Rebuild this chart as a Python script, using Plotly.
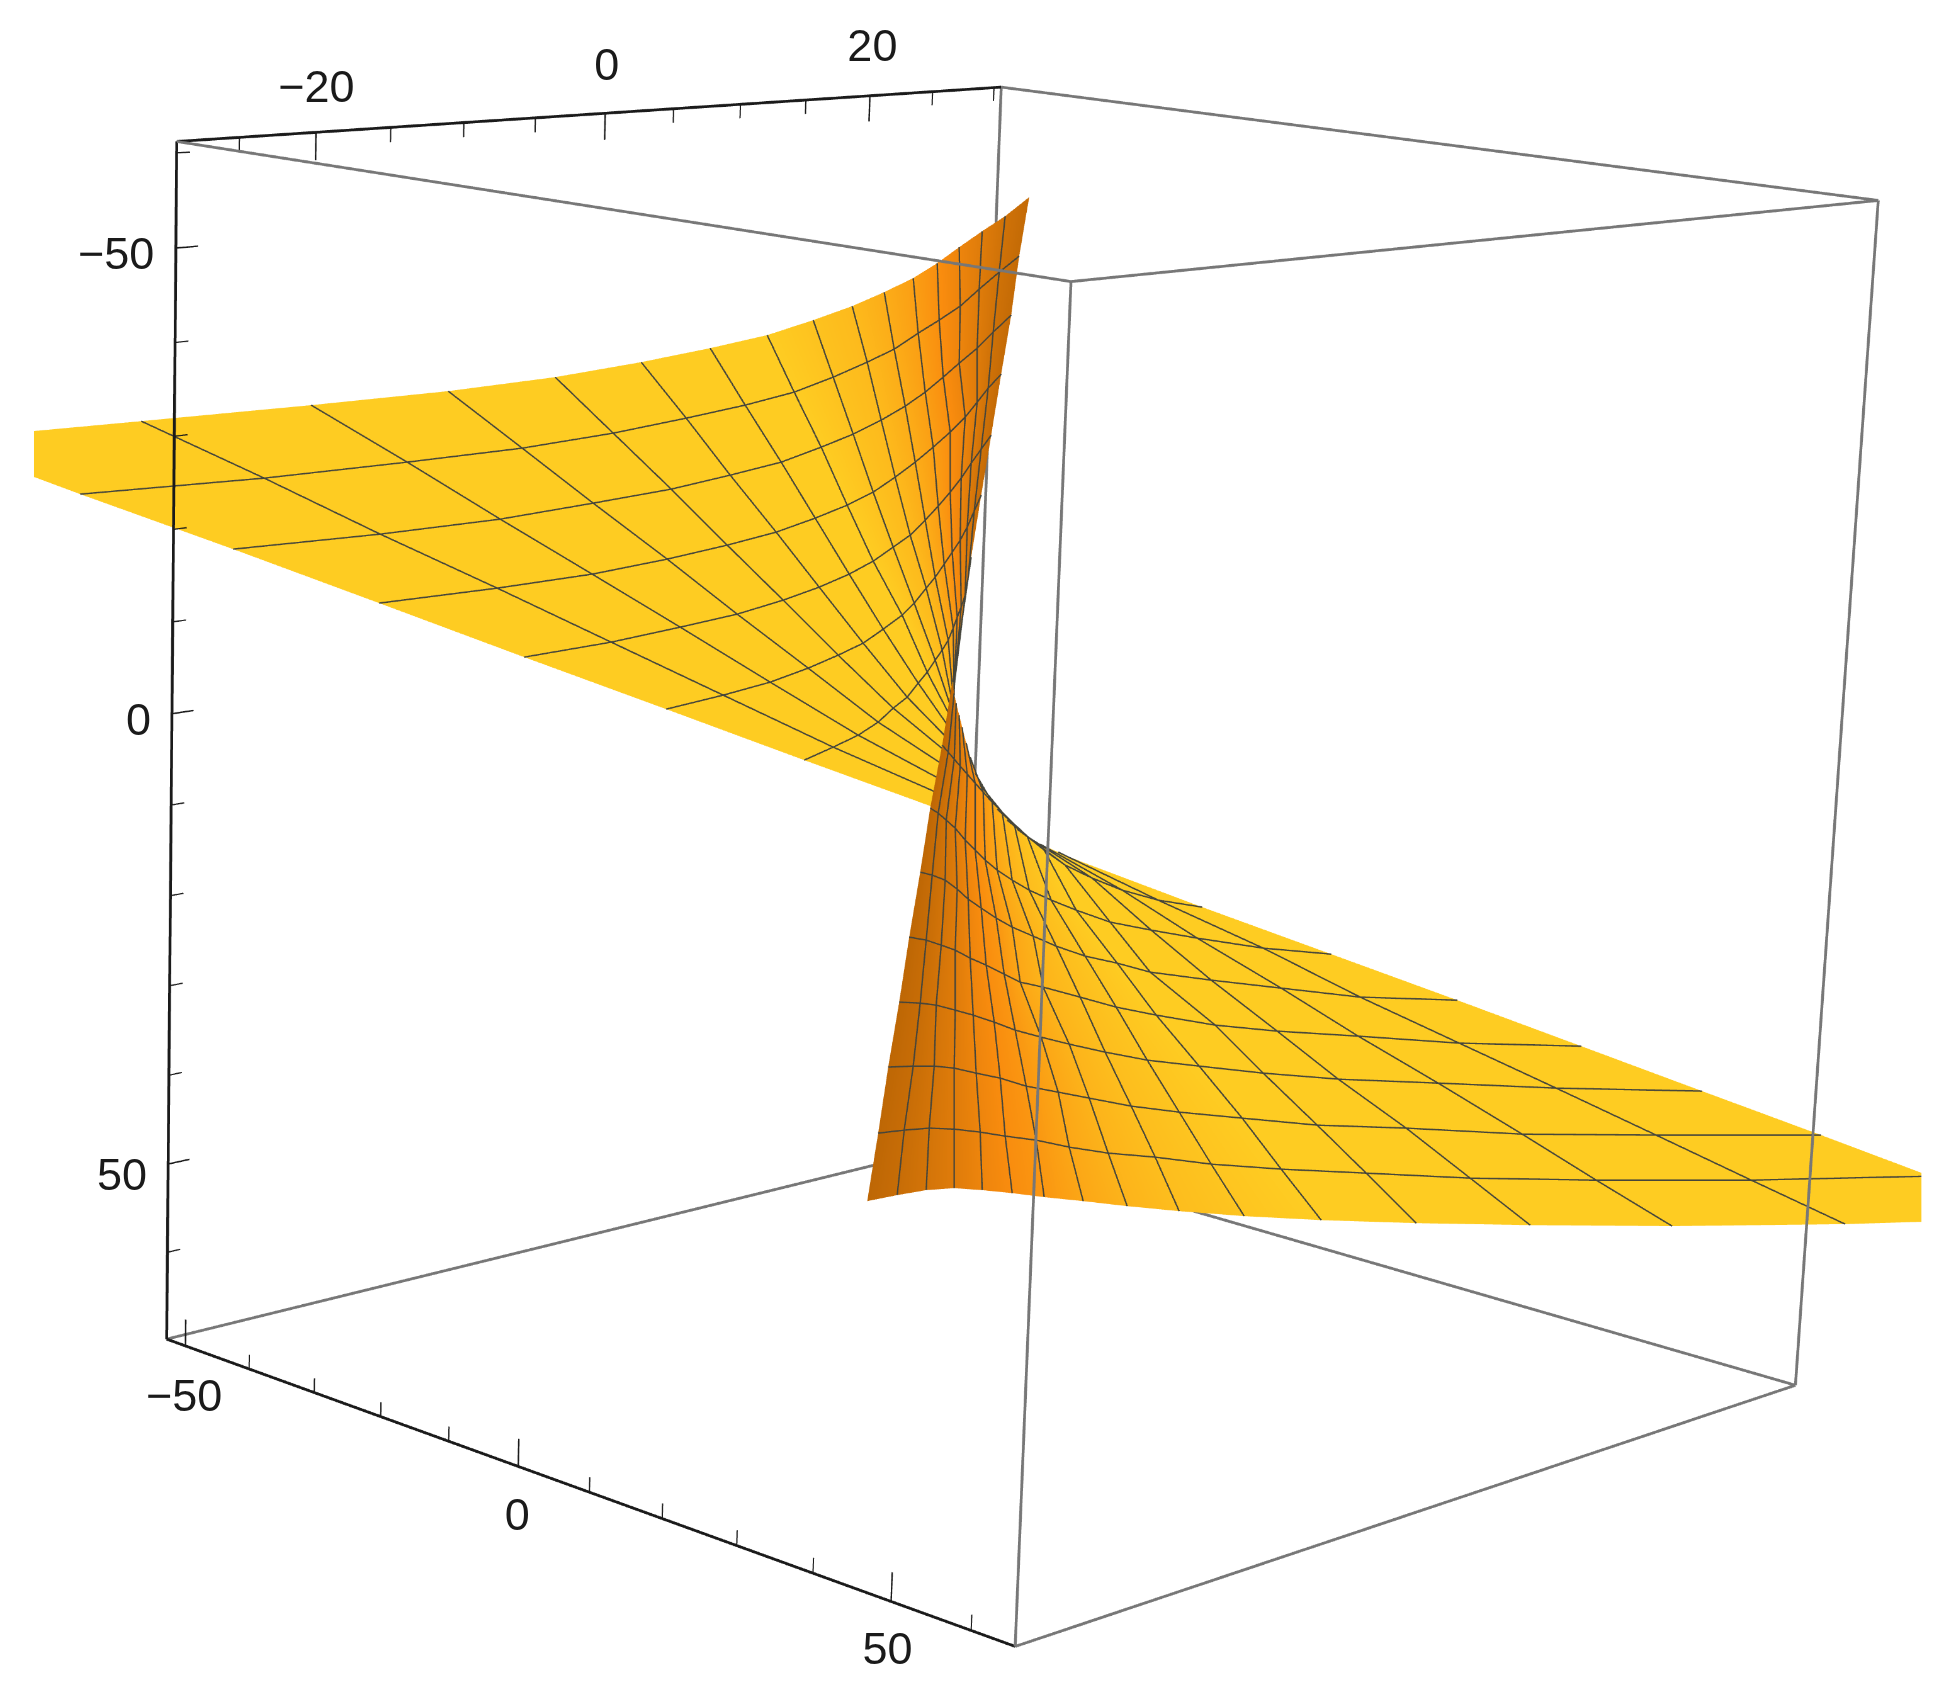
import numpy as np
import plotly.graph_objects as go

# Axis box and ticks (data units)
x_limits = [-29, 30.6]
y_limits = [-53, 65.4]
z_limits = [-61.2, 69.9]
x_ticks = [-25, -20, -15, -10, -5, 0, 5, 10, 15, 20, 25, 30]
x_major = [-20, 0, 20]
y_ticks = [-50, -40, -30, -20, -10, 0, 10, 20, 30, 40, 50, 60]
y_major = [-50, 0, 50]
z_ticks = [-60, -50, -40, -30, -20, -10, 0, 10, 20, 30, 40, 50, 60]
z_major = [-50, 0, 50]

# Mesh crossings of the two sheets as (s, t) positions on each sheet's plane.
# Rows run from the throat outwards, columns from one straight edge to the other.
upper_sheet = [
[(936,808),(938,793),(940,779),(942,764),(944,750),(946,737),(948,726),(950,716),(951,708),(952,702),(953,697),(954,693),(954,690),(954,687),(954,685),(953,682),(952,680)],
[(804,760),(833,747),(858,735),(878,722),(893,708),(907,697),(918,683),(927,672),(935,660),(942,650),(948,640),(953,628),(957,617),(961,607),(965,595),(968,577),(971,557)],
[(666,709),(723,695),(770,682),(808,668),(838,655),(863,643),(883,629),(902,615),(914,603),(926,588),(935,577),(944,564),(952,552),(960,540),(967,527),(974,511),(981,495)],
[(524,657),(611,642),(680,627),(737,614),(783,600),(819,587),(849,574),(873,561),(893,547),(910,535),(925,520),(938,506),(950,492),(961,478),(971,463),(981,449),(991,435)],
[(379,603),(497,588),(592,574),(667,559),(727,545),(776,532),(815,518),(847,505),(873,492),(895,477),(915,462),(933,447),(950,432),(965,417),(977,402),(988,388),(1001,374)],
[(233,549),(380,534),(500,519),(593,503),(671,489),(730,475),(781,462),(821,447),(853,434),(881,420),(905,406),(925,392),(943,377),(959,363),(977,348),(993,332),(1011,315)],
[(80,494),(264,478),(407,462),(522,448),(613,433),(686,418),(745,405),(794,392),(833,377),(867,362),(894,349),(918,333),(939,320),(960,306),(979,289),(999,272),(1019,256)],
[(-65,440),(141,421),(311,405),(448,391),(555,377),(641,362),(710,348),(767,335),(813,320),(852,306),(884,292),(913,278),(937,263),(959,247),(982,231),(1005,216),(1029,197)],
]
lower_sheet = [
[(952,682),(954,693),(956,703),(959,715),(962,727),(966,743),(970,757),(975,773),(980,785),(988,798),(997,809),(1007,820),(1017,829),(1028,837),(1040,844),(1058,852),(1077,860)],
[(942,745),(948,752),(954,759),(960,766),(967,774),(975,783),(983,792),(992,802),(1002,812),(1014,824),(1027,836),(1044,850),(1065,865),(1092,878),(1122,890),(1158,900),(1202,907)],
[(930,808),(938,813),(946,820),(955,828),(965,840),(975,850),(985,860),(997,870),(1012,880),(1029,890),(1051,900),(1076,910),(1110,922),(1151,930),(1197,938),(1263,948),(1331,954)],
[(920,872),(932,875),(945,880),(957,889),(968,899),(981,908),(996,918),(1012,927),(1033,936),(1056,946),(1085,956),(1117,963),(1150,972),(1211,980),(1281,988),(1360,997),(1457,1000)],
[(909,937),(926,940),(941,945),(955,950),(970,958),(986,965),(1004,974),(1020,982),(1043,987),(1080,997),(1116,1007),(1156,1015),(1215,1025),(1277,1031),(1358,1036),(1459,1043),(1581,1046)],
[(899,1002),(920,1003),(936,1005),(955,1010),(973,1015),(994,1022),(1015,1030),(1041,1037),(1069,1044),(1105,1052),(1147,1060),(1199,1066),(1263,1073),(1338,1079),(1438,1083),(1556,1088),(1702,1091)],
[(888,1067),(913,1066),(934,1066),(954,1068),(976,1073),(1000,1078),(1026,1086),(1058,1092),(1089,1098),(1131,1106),(1179,1112),(1242,1118),(1317,1125),(1406,1128),(1522,1134),(1656,1135),(1821,1135)],
[(878,1133),(904,1130),(929,1128),(954,1129),(980,1132),(1005,1136),(1036,1140),(1069,1147),(1108,1153),(1155,1157),(1211,1164),(1281,1169),(1366,1173),(1470,1178),(1596,1180),(1751,1180),(1930,1176)],
[(867,1201),(897,1195),(926,1190),(954,1188),(982,1190),(1012,1193),(1044,1197),(1083,1201),(1127,1206),(1179,1211),(1244,1216),(1321,1220),(1416,1223),(1530,1225),(1672,1226),(1845,1224),(2040,1218)],
]
# Shade of each mesh column: 0 yellow, 0.5 orange, 1 brown
upper_shade = [0,0,0,0,0,0,0,0,.08,.15,.25,.36,.48,.6,.72,.85,.95]
lower_shade = [1,.92,.82,.72,.6,.5,.42,.3,.2,.12,.06,0,0,0,0,0,0]

# Planes the sheets lie on, in data units: origin, s direction, t direction
upper_plane = ([-22.7926,-96.6716,-71.5244],[0.035973,0.075061,-0.004146],[-0.007043,0.018312,0.108306])
lower_plane = ([-24.1387,-93.2373,-71.9339],[0.035729,0.074551,-0.004118],[-0.006995,0.018188,0.107571])
eye_data = np.array([-221.24,409.647,-131.89])
mesh_lift = 0.002261   # mesh lines sit just in front of their sheet

W,H = 1956,1694
PLOT_L,PLOT_R = 34,1921
SCENE_H = 4000
SCALE = 6079.4/((SCENE_H/2)/np.tan(np.pi/8))
TOP = H/2-SCALE*SCENE_H/2
aspect = np.array([0.99295918,1.0,1.03028561])
eye = dict(x=-3.69927977,y=3.40748815,z=-1.07067933)
center = dict(x=-0.02492694,y=-0.00816918,z=0.05650138)
up = dict(x=0.13440068,y=-0.17716136,z=-0.97496170)

lo = np.array([x_limits[0],y_limits[0],z_limits[0]])
hi = np.array([x_limits[1],y_limits[1],z_limits[1]])
mid = (lo+hi)/2
span = hi-lo
K = 4.0

def seg_xyz(pairs):
    xs,ys,zs = [],[],[]
    for A,B in pairs:
        xs += [A[0],B[0],None]; ys += [A[1],B[1],None]; zs += [A[2],B[2],None]
    return xs,ys,zs

def lines(pairs,color,width):
    xs,ys,zs = seg_xyz(pairs)
    return go.Scatter3d(x=xs,y=ys,z=zs,mode='lines',line=dict(color=color,width=width),hoverinfo='skip',showlegend=False)

fig = go.Figure()
COLORS = [[0,'#FECC22'],[.25,'#FCAD18'],[.5,'#F98C0E'],[1,'#BE6705']]
LIGHT = dict(ambient=1,diffuse=0,specular=0,roughness=1,fresnel=0)

def add_sheet(grid,shade,plane):
    G = np.array(grid,float)
    O,Ds,Dt = [np.array(v) for v in plane]
    P = O+G[...,0,None]*Ds+G[...,1,None]*Dt
    n,m = P.shape[:2]
    fig.add_trace(go.Surface(x=P[...,0],y=P[...,1],z=P[...,2],surfacecolor=np.array([shade]*n),cmin=0,cmax=1,
                             colorscale=COLORS,showscale=False,lighting=LIGHT,hoverinfo='skip'))
    M = eye_data+(P-eye_data)*(1-mesh_lift)
    segs = [(M[i,j],M[i,j+1]) for i in range(1,n-1) for j in range(m-1)]
    segs += [(M[i,j],M[i+1,j]) for j in range(1,m-1) for i in range(n-1)]
    fig.add_trace(lines(segs,'#45453b',2.3))

add_sheet(upper_sheet,upper_shade,upper_plane)
add_sheet(lower_sheet,lower_shade,lower_plane)

def c(i,j,k): return (x_limits[i],y_limits[j],z_limits[k])
gray_edges = [(c(1,0,0),c(1,1,0)),(c(1,1,0),c(0,1,0)),(c(0,1,0),c(0,0,0)),(c(1,0,0),c(1,0,1)),
              (c(1,1,0),c(1,1,1)),(c(0,1,0),c(0,1,1)),(c(1,0,1),c(1,1,1)),(c(1,1,1),c(0,1,1)),(c(0,0,1),c(1,0,1))]
black_edges = [(c(0,0,0),c(1,0,0)),(c(0,0,0),c(0,0,1)),(c(0,0,1),c(0,1,1))]
fig.add_trace(lines(gray_edges,'#777777',4.5))
fig.add_trace(lines(black_edges,'#1a1a1a',4.5))

def tick_segments(major):
    out = []
    for v in x_ticks:
        if (v in x_major)==major:
            L = 3 if major else 1.6
            out.append(((v,y_limits[0],z_limits[0]),(v,y_limits[0],z_limits[0]+L)))
    for v in y_ticks:
        if (v in y_major)==major:
            L = 3 if major else 1.6
            out.append(((x_limits[0],v,z_limits[1]),(x_limits[0],v,z_limits[1]-L)))
    for v in z_ticks:
        if (v in z_major)==major:
            L = 1.4 if major else .85
            out.append(((x_limits[0],y_limits[0],v),(x_limits[0]+L,y_limits[0],v)))
    return out
fig.add_trace(lines(tick_segments(True),'#1a1a1a',2.4))
fig.add_trace(lines(tick_segments(False),'#1a1a1a',2))

FONT = dict(family='Liberation Sans',size=45/SCALE,color='#1a1a1a')
def lab(x,y,z,v,sx,sy):
    txt = str(v).replace('-','\u2212')
    return dict(x=x,y=y,z=z,text=txt,showarrow=False,xanchor='center',yanchor='middle',xshift=sx/SCALE,yshift=sy/SCALE,font=FONT)
labels = [lab(v,y_limits[0],z_limits[0],v,sx,sy) for v,sx,sy in ((-20,1,46),(0,1,48),(20,2,50))]
labels += [lab(x_limits[0],y_limits[0],v,v,sx,sy) for v,sx,sy in ((-50,-60,-6),(0,-34,-6),(50,-46,-10))]
labels += [lab(x_limits[0],v,z_limits[1],v,sx,sy) for v,sx,sy in ((-50,-1,-50),(0,-1,-48),(50,-3,-48))]

axis = lambda i: dict(visible=False,range=[mid[i]-K*span[i]/2,mid[i]+K*span[i]/2])
fig.update_layout(width=W/SCALE,height=SCENE_H,margin=dict(l=0,r=0,t=0,b=0),paper_bgcolor='white',
    scene=dict(domain=dict(x=[PLOT_L/W,PLOT_R/W],y=[0,1]),aspectmode='manual',
               aspectratio=dict(x=K*aspect[0],y=K*aspect[1],z=K*aspect[2]),annotations=labels,
               xaxis=axis(0),yaxis=axis(1),zaxis=axis(2),
               camera=dict(eye=eye,center=center,up=up)))
post = ("document.body.style.margin='0';document.body.style.overflow='hidden';"
        "document.documentElement.style.overflow='hidden';document.body.style.height='1694px';"
        "var g=document.getElementById('{plot_id}');g.style.position='absolute';g.style.top='%.2fpx';"
        "g.style.left='0';g.style.transformOrigin='0 0';g.style.transform='scale(%.5f)';"%(TOP,SCALE))
fig.write_html("out.html",post_script=post)
